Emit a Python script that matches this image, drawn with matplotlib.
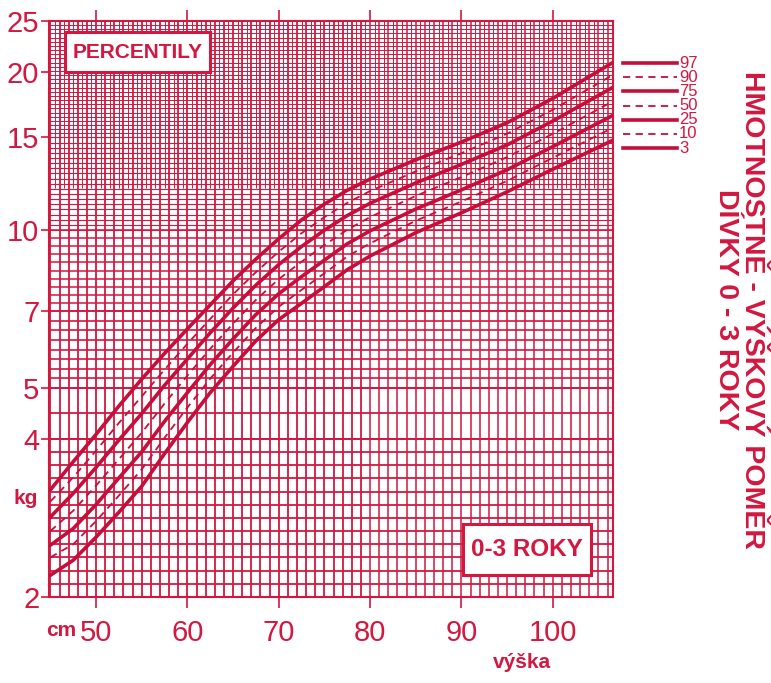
import numpy as np
import matplotlib.pyplot as plt
from matplotlib.patches import Rectangle
from matplotlib.ticker import FixedLocator, FixedFormatter, NullLocator

plt.rcParams['font.family'] = ['Liberation Sans Narrow', 'Liberation Sans', 'DejaVu Sans']
WIDE = ['Liberation Sans', 'DejaVu Sans']

RED = '#d3173f'
CURVE = '#c40f3a'

vyska = [45, 47.5, 50, 52.5, 55, 57.5, 60, 62.5, 65, 67.5, 70, 72.5, 75, 77.5,
         80, 85, 90, 95, 100, 106.5]

# weight (kg) per percentile
p97 = [3.20, 3.62, 4.08, 4.62, 5.20, 5.82, 6.48, 7.20, 8.00, 8.80, 9.62, 10.45,
       11.20, 11.90, 12.50, 13.60, 14.70, 16.00, 17.80, 20.80]
p90 = [3.04, 3.38, 3.80, 4.29, 4.82, 5.42, 6.07, 6.77, 7.54, 8.31, 9.09, 9.86,
       10.58, 11.26, 11.86, 12.93, 14.00, 15.25, 16.94, 19.70]
p75 = [2.84, 3.15, 3.53, 3.98, 4.47, 5.06, 5.68, 6.37, 7.10, 7.85, 8.59, 9.30,
       9.99, 10.65, 11.24, 12.29, 13.33, 14.52, 16.12, 18.65]
p50 = [2.67, 2.92, 3.26, 3.66, 4.11, 4.67, 5.28, 5.94, 6.63, 7.36, 8.06, 8.70,
       9.36, 10.01, 10.58, 11.61, 12.61, 13.76, 15.24, 17.55]
p25 = [2.51, 2.70, 3.00, 3.37, 3.78, 4.32, 4.90, 5.54, 6.20, 6.90, 7.56, 8.15,
       8.76, 9.41, 9.96, 10.96, 11.92, 13.02, 14.41, 16.50]
p10 = [2.38, 2.52, 2.79, 3.12, 3.50, 4.02, 4.59, 5.21, 5.84, 6.51, 7.14, 7.69,
       8.27, 8.90, 9.43, 10.41, 11.33, 12.40, 13.72, 15.63]
p3 = [2.20, 2.35, 2.60, 2.90, 3.25, 3.75, 4.30, 4.90, 5.50, 6.15, 6.75, 7.25,
      7.80, 8.40, 8.92, 9.88, 10.78, 11.82, 13.05, 14.80]

percentily = [97, 90, 75, 50, 25, 10, 3]
krivky = [p97, p90, p75, p50, p25, p10, p3]
plne = [True, False, True, False, True, False, True]

y_ticks = [2, 4, 5, 7, 10, 15, 20, 25]
x_ticks = [50, 60, 70, 80, 90, 100]

W, H = 771, 683
fig = plt.figure(figsize=(W / 100, H / 100), dpi=100)
ax = fig.add_axes([49 / W, 1 - 597 / H, (613 - 49) / W, (597 - 21) / H])
ax.set_yscale('log')
ax.set_xlim(44.85, 106.6)
ax.set_ylim(2, 25)

# background grid: row density changes from band to band
pasma = [(2, 4, 12, 1.3), (4, 5, 2, 1.3), (5, 7, 8, 1.2), (7, 10, 10, 1.1),
         (10, 15, 18, 0.8), (15, 25, 28, 0.7)]
for lo, hi, n, lw in pasma:
    for h in np.geomspace(lo, hi, n + 1):
        ax.axhline(h, color=RED, lw=lw, zorder=1)
for v in np.arange(45, 107, 1):
    ax.axvline(v, color=RED, lw=1.3 if v < 80 else 1.1, zorder=1)
# half-centimetre columns in the upper part
ax.vlines(np.arange(45.5, 107, 1), 12, 25, color=RED, lw=0.7, zorder=1)

for y, solid in zip(krivky, plne):
    ax.plot(vyska, y, color=CURVE, lw=2.6 if solid else 1.3,
            ls='-' if solid else (0, (4, 3)), zorder=3)

ax.yaxis.set_major_locator(FixedLocator(y_ticks))
ax.yaxis.set_major_formatter(FixedFormatter([str(t) for t in y_ticks]))
ax.yaxis.set_minor_locator(NullLocator())
ax.set_xticks(x_ticks)
ax.tick_params(colors=RED, labelcolor=RED, labelsize=21, length=6, width=1.2,
               direction='out', pad=1)
ax.tick_params(axis='x', top=True, length=8, pad=8)
for lab in ax.get_xticklabels() + ax.get_yticklabels():
    lab.set_family(WIDE)
for s in ax.spines.values():
    s.set_color(RED)
    s.set_linewidth(1.5)

fig.text(26 / W, 1 - 498 / H, 'kg', color=RED, fontsize=15,
         fontweight='bold', ha='center', va='center')
fig.text(61 / W, 1 - 630 / H, 'cm', color=RED, fontsize=15,
         fontweight='bold', ha='center', va='center')
fig.text(522 / W, 1 - 662 / H, 'výška', color=RED, fontsize=15,
         fontweight='bold', ha='center', va='center')

# framed captions inside the plot
for (x0, y0, x1, y1), txt, fs in [((65, 32, 210, 72), 'PERCENTILY', 15),
                                  ((463, 524, 591, 575), '0-3 ROKY', 17.5)]:
    fig.add_artist(Rectangle((x0 / W, 1 - y1 / H), (x1 - x0) / W, (y1 - y0) / H,
                             transform=fig.transFigure, fc='white', ec=RED,
                             lw=2.2, zorder=5))
    fig.text((x0 + x1) / 2 / W, 1 - (y0 + y1) / 2 / H, txt, color=RED,
             fontsize=fs, fontweight='bold', ha='center', va='center',
             zorder=6)

# percentile key on the right
for i, (p, solid) in enumerate(zip(percentily, plne)):
    yy = 1 - (63 + i * 14.2) / H
    fig.add_artist(plt.Line2D([623 / W, 677 / W], [yy, yy], color=CURVE,
                              lw=2.6 if solid else 1.3,
                              ls='-' if solid else (0, (4, 3))))
    fig.text(679 / W, yy, str(p), color=RED, fontsize=12, va='center',
             ha='left')

fig.text(739 / W, 1 - 310 / H, 'HMOTNOSTNĚ - VÝŠKOVÝ POMĚR\nDÍVKY 0 - 3 ROKY',
         color=RED, fontsize=20.5, fontweight='bold', rotation=-90,
         ha='center', va='center', linespacing=1.0, multialignment='center',
         family=WIDE)

fig.savefig('out.png', dpi=100)
